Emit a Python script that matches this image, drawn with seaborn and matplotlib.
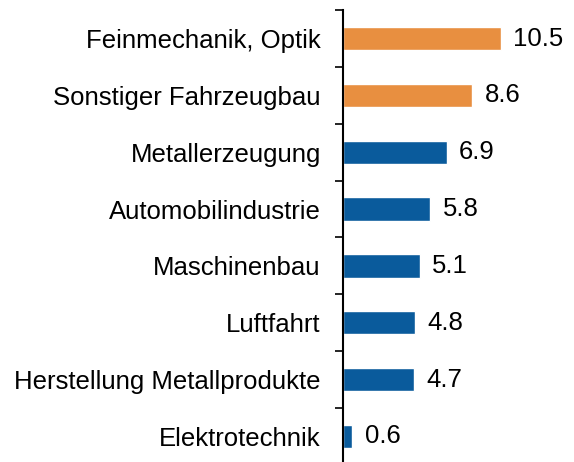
import matplotlib
matplotlib.use('Agg')
import matplotlib.pyplot as plt
import seaborn as sns
import numpy as np
import pandas as pd

branchen = ["Feinmechanik, Optik", "Sonstiger Fahrzeugbau", "Metallerzeugung",
            "Automobilindustrie", "Maschinenbau", "Luftfahrt",
            "Herstellung Metallprodukte", "Elektrotechnik"]
werte = [10.5, 8.6, 6.9, 5.8, 5.1, 4.8, 4.7, 0.6]
gruppe = ["hoch", "hoch", "normal", "normal", "normal", "normal", "normal", "normal"]

farben = {"hoch": "#E88F40", "normal": "#0A5B9C"}

df = pd.DataFrame({"Branche": branchen, "Wert": werte, "Gruppe": gruppe})

sns.set_style("white")
plt.rcParams['font.family'] = ['Liberation Sans', 'DejaVu Sans']
plt.rcParams['text.color'] = 'black'
plt.rcParams['ytick.color'] = 'black'

fig = plt.figure(figsize=(5.74, 4.62), dpi=100)
ax = fig.add_axes([0.5976, -0.006, 0.4024, 0.984])

sns.barplot(df, x="Wert", y="Branche", hue="Gruppe", palette=farben,
            orient="h", width=0.41, dodge=False, legend=False, ax=ax,
            saturation=1)

# Werte rechts neben die Balken
for i, v in enumerate(werte):
    ax.annotate(f"{v:.1f}", xy=(v, i), xytext=(9, 0), textcoords="offset points",
                va="center", ha="left", fontsize=18.5, color="black")

ax.set_xlim(0, 15.4)
ax.set_ylim(len(branchen) - 0.5, -0.5)
ax.set_xlabel("")
ax.set_ylabel("")
ax.set_xticks([])
ax.set_yticks(np.arange(len(branchen)))
ax.set_yticklabels(branchen, fontsize=18.5, color="black")
ax.tick_params(axis="y", which="major", length=0, pad=16)
ax.set_yticks(np.arange(len(branchen)) - 0.5, minor=True)
ax.tick_params(axis="y", which="minor", length=6, width=1.2, color="black", left=True)

for s in ["top", "right", "bottom"]:
    ax.spines[s].set_visible(False)
ax.spines["left"].set_color("black")
ax.spines["left"].set_linewidth(1.5)

fig.savefig("out.png", dpi=100)
